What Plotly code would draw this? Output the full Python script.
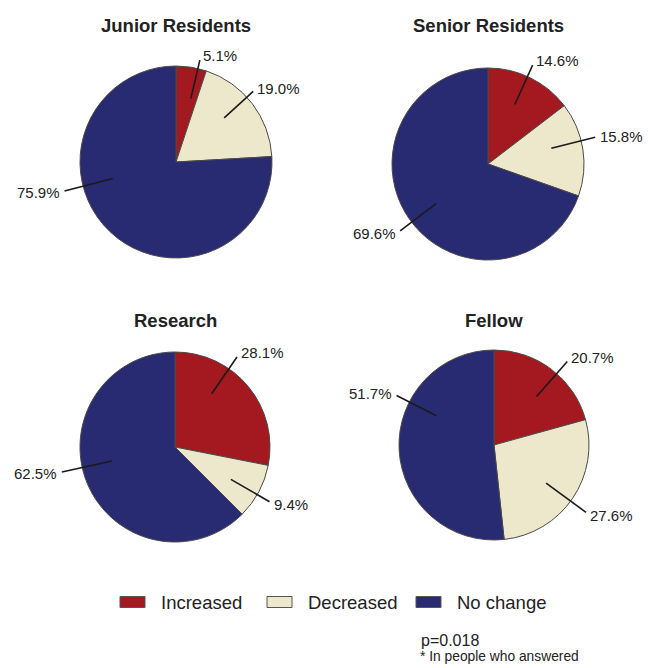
import math
import plotly.graph_objects as go

# ---------------- data ----------------
GROUPS = ["Junior Residents", "Senior Residents", "Research", "Fellow"]
CATEGORIES = ["Increased", "Decreased", "No change"]
INCREASED = [5.1, 14.6, 28.1, 20.7]
DECREASED = [19.0, 15.8, 9.4, 27.6]
NO_CHANGE = [75.9, 69.6, 62.5, 51.7]
P_VALUE = "p=0.018"
FOOTNOTE = "* In people who answered"

# ---------------- style / layout ----------------
COLORS = ["#A3191F", "#EDE8CB", "#282A72"]
FONT = "Liberation Sans, Arial, Helvetica, sans-serif"
TXT = "#222222"
W, H = 648, 668
PIE_BOXES = [(176, 162, 96), (488, 164, 96), (175, 447, 95), (494, 445, 95)]  # centre x, centre y, radius (px)
TITLE_Y = [25, 25, 320, 320]
LABEL_NUDGE = [[4, -5, 32], [-2, -5, -2], [-16, 2, 10], [4, 2, 30]]  # degrees
OUTER_F = [[1.09, 1.09, 1.2], [1.13, 1.15, 1.15], [1.15, 1.15, 1.22], [1.17, 1.2, 1.15]]
INNER_F = 0.68
LEGEND_X = [120, 267, 416]   # left edge of each legend swatch (px)
LEGEND_Y = 602
SWATCH_W, SWATCH_H = 25, 11


def px(x):
    return x / W


def py(y):
    return 1 - y / H


fig = go.Figure()
shapes = []
annotations = []

for i, g in enumerate(GROUPS):
    vals = [INCREASED[i], DECREASED[i], NO_CHANGE[i]]
    cx, cy, r = PIE_BOXES[i]
    fig.add_trace(go.Pie(
        labels=CATEGORIES, values=vals, sort=False, direction="clockwise",
        rotation=0, textinfo="none", hoverinfo="label+percent",
        marker=dict(colors=COLORS, line=dict(color="#4a4a4a", width=1)),
        domain=dict(x=[px(cx - r), px(cx + r)], y=[py(cy + r), py(cy - r)]),
        showlegend=False, name=g,
    ))
    annotations.append(dict(
        x=px(cx), y=py(TITLE_Y[i]), xref="paper", yref="paper", text="<b>%s</b>" % g,
        showarrow=False, xanchor="center", yanchor="middle",
        font=dict(family=FONT, size=18.5, color=TXT)))
    total = sum(vals)
    cum = 0.0
    for j, v in enumerate(vals):
        ang = (cum + v / 2) / total * 360 + LABEL_NUDGE[i][j]
        cum += v
        s, c = math.sin(math.radians(ang)), math.cos(math.radians(ang))
        of = OUTER_F[i][j]
        x0, y0 = cx + s * r * INNER_F, cy - c * r * INNER_F
        x1, y1 = cx + s * r * of, cy - c * r * of
        shapes.append(dict(type="line", xref="paper", yref="paper",
                           x0=px(x0), y0=py(y0), x1=px(x1), y1=py(y1),
                           line=dict(color="#1a1a1a", width=1.6)))
        xa = "left" if s > 0.15 else ("right" if s < -0.15 else "center")
        lx, ly = x1 + s * 3, y1 - c * 3
        annotations.append(dict(
            x=px(lx), y=py(ly), xref="paper", yref="paper", text="%.1f%%" % v,
            showarrow=False, xanchor=xa, yanchor="middle", yshift=c * 2,
            font=dict(family=FONT, size=15, color=TXT)))

# legend (swatches + labels)
for k, cat in enumerate(CATEGORIES):
    lx = LEGEND_X[k]
    shapes.append(dict(type="rect", xref="paper", yref="paper",
                       x0=px(lx), x1=px(lx + SWATCH_W),
                       y0=py(LEGEND_Y + SWATCH_H / 2), y1=py(LEGEND_Y - SWATCH_H / 2),
                       fillcolor=COLORS[k], line=dict(color="#555555", width=1)))
    annotations.append(dict(x=px(lx + SWATCH_W + 14), y=py(LEGEND_Y), xref="paper", yref="paper",
                            text=cat, showarrow=False, xanchor="left", yanchor="middle",
                            font=dict(family=FONT, size=18.5, color=TXT)))

annotations.append(dict(x=px(419), y=py(640), xref="paper", yref="paper", text=P_VALUE,
                        showarrow=False, xanchor="left", yanchor="middle",
                        font=dict(family=FONT, size=16, color=TXT)))
annotations.append(dict(x=px(418), y=py(656), xref="paper", yref="paper", text=FOOTNOTE,
                        showarrow=False, xanchor="left", yanchor="middle",
                        font=dict(family=FONT, size=13.8, color=TXT)))

fig.update_layout(
    width=W, height=H, margin=dict(l=0, r=0, t=0, b=0),
    paper_bgcolor="white", plot_bgcolor="white",
    font=dict(family=FONT, color=TXT),
    shapes=shapes, annotations=annotations, showlegend=False,
)

fig.write_html("out.html", config={"displayModeBar": False},
               post_script="document.body.style.margin='0px';document.body.style.overflow='hidden';")
